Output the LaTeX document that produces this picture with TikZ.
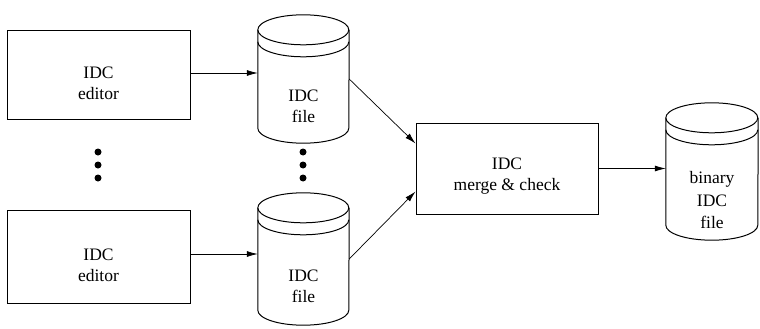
\documentclass[tikz,border=0pt]{standalone}
\usepackage{fontspec}
\setmainfont{Liberation Serif}
\usetikzlibrary{arrows.meta}

% Drum (disk file) outline around a named placeholder node; #2 = x radius
\newcommand\drum[2]{%
  \draw[drumline] ([yshift=-15pt]#1.north west)
      arc[start angle=180, end angle=-180, x radius=#2, y radius=15pt];
  \draw[drumline] ([yshift=-27pt]#1.north west)
      arc[start angle=180, end angle=360, x radius=#2, y radius=15pt];
  \draw[drumline] ([yshift=-15pt]#1.north west) -- ([yshift=15pt]#1.south west)
      arc[start angle=180, end angle=360, x radius=#2, y radius=15pt]
      -- ([yshift=-15pt]#1.north east);
}

\begin{document}
\begin{tikzpicture}[x=1pt, y=-1pt,
  every node/.style={font=\fontsize{17.5}{21}\selectfont},
  procbox/.style={draw, line width=0.9pt, inner sep=0pt},
  drumslot/.style={draw=none, inner sep=0pt},
  drumline/.style={line width=1pt},
  lbl/.style={align=center, inner sep=0pt},
  flow/.style={line width=0.7pt, -{Latex[length=11pt, width=6pt]}},
  dot/.style={circle, fill, inner sep=0pt, minimum size=7pt}]

\useasboundingbox (0,0) rectangle (760,329);

% editors
\node[procbox, minimum width=183pt, minimum height=89pt] (ed1) at (98.5,74.5) {};
\node[procbox, minimum width=183pt, minimum height=93pt] (ed2) at (98.5,256.5) {};
\node[lbl] (ed1t) at ([yshift=-9pt]ed1.center) {IDC\\editor};
\node[lbl] (ed2t) at ([yshift=-9pt]ed2.center) {IDC\\editor};

% source files
\node[drumslot, minimum width=91pt, minimum height=128pt] (f1) at (303.5,79) {};
\node[drumslot, minimum width=91pt, minimum height=132pt] (f2) at (303.5,259) {};
\drum{f1}{45.5pt}
\drum{f2}{45.5pt}
\node[lbl] (f1t) at ([yshift=-27pt]f1.center) {IDC\\file};
\node[lbl] (f2t) at ([yshift=-27pt]f2.center) {IDC\\file};

% merge step
\node[procbox, minimum width=182pt, minimum height=91pt] (mc) at (507,168.5) {};
\node[lbl] (mct) at ([yshift=-8pt]mc.center) {IDC\\merge \& check};

% binary output file
\node[drumslot, minimum width=92pt, minimum height=137pt] (bf) at (712,171.5) {};
\drum{bf}{46pt}
\node[lbl, font=\fontsize{17.5}{22.5}\selectfont] (bft) at ([yshift=-29pt]bf.center) {binary\\IDC\\file};

% continuation dots
\foreach \i/\yy in {1/152,2/165,3/178} {
  \node[dot] (la\i) at (98,\yy) {};
  \node[dot] (lb\i) at (303,\yy) {};
}

% data flow
\draw[flow] ([yshift=1.5pt]ed1.east) -- ([yshift=1.5pt]ed1.east -| f1.west);
\draw[flow] ([yshift=2.5pt]ed2.east) -- ([yshift=2.5pt]ed2.east -| f2.west);
\draw[flow] (f1.east) -- ([yshift=25pt]mc.west);
\draw[flow] (f2.east) -- ([yshift=-23pt]mc.west);
\draw[flow] (mc.east) -- (mc.east -| bf.west);
\end{tikzpicture}
\end{document}
